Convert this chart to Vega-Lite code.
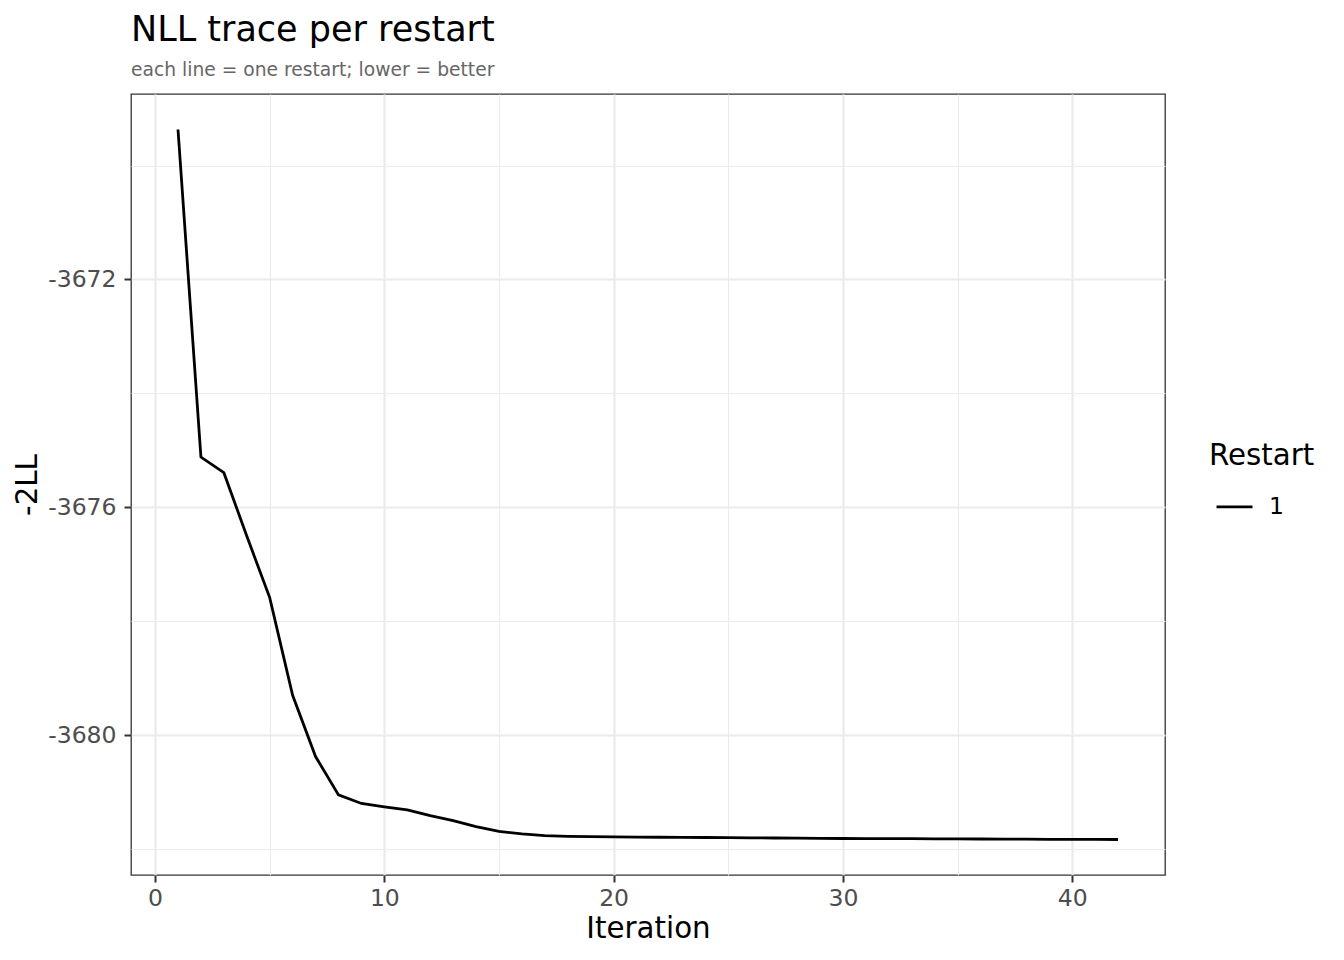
{
  "$schema": "https://vega.github.io/schema/vega-lite/v6.json",
  "width": 1034,
  "height": 781,
  "autosize": {"type": "none"},
  "padding": {"left": 131, "top": 94, "right": 179, "bottom": 85},
  "background": "white",
  "config": {
    "font": "DejaVu Sans",
    "view": {"stroke": "#333333", "strokeWidth": 1.3, "fill": "white"}
  },
  "title": {
    "text": "NLL trace per restart",
    "subtitle": "each line = one restart; lower = better",
    "anchor": "start",
    "frame": "group",
    "font": "DejaVu Sans",
    "fontSize": 35,
    "fontWeight": "normal",
    "color": "black",
    "subtitleFont": "DejaVu Sans",
    "subtitleFontSize": 18.7,
    "subtitleColor": "#666666",
    "subtitlePadding": 13,
    "offset": 14
  },
  "data": {
    "values": [
      {"iteration": 1, "nll": -3669.368, "restart": "1"},
      {"iteration": 2, "nll": -3675.118, "restart": "1"},
      {"iteration": 3, "nll": -3675.391, "restart": "1"},
      {"iteration": 4, "nll": -3676.504, "restart": "1"},
      {"iteration": 5, "nll": -3677.584, "restart": "1"},
      {"iteration": 6, "nll": -3679.298, "restart": "1"},
      {"iteration": 7, "nll": -3680.374, "restart": "1"},
      {"iteration": 8, "nll": -3681.047, "restart": "1"},
      {"iteration": 9, "nll": -3681.198, "restart": "1"},
      {"iteration": 10, "nll": -3681.258, "restart": "1"},
      {"iteration": 11, "nll": -3681.311, "restart": "1"},
      {"iteration": 12, "nll": -3681.412, "restart": "1"},
      {"iteration": 13, "nll": -3681.500, "restart": "1"},
      {"iteration": 14, "nll": -3681.605, "restart": "1"},
      {"iteration": 15, "nll": -3681.689, "restart": "1"},
      {"iteration": 16, "nll": -3681.733, "restart": "1"},
      {"iteration": 17, "nll": -3681.763, "restart": "1"},
      {"iteration": 18, "nll": -3681.775, "restart": "1"},
      {"iteration": 19, "nll": -3681.781, "restart": "1"},
      {"iteration": 20, "nll": -3681.784, "restart": "1"},
      {"iteration": 21, "nll": -3681.787, "restart": "1"},
      {"iteration": 22, "nll": -3681.790, "restart": "1"},
      {"iteration": 23, "nll": -3681.793, "restart": "1"},
      {"iteration": 24, "nll": -3681.795, "restart": "1"},
      {"iteration": 25, "nll": -3681.798, "restart": "1"},
      {"iteration": 26, "nll": -3681.801, "restart": "1"},
      {"iteration": 27, "nll": -3681.804, "restart": "1"},
      {"iteration": 28, "nll": -3681.806, "restart": "1"},
      {"iteration": 29, "nll": -3681.809, "restart": "1"},
      {"iteration": 30, "nll": -3681.812, "restart": "1"},
      {"iteration": 31, "nll": -3681.813, "restart": "1"},
      {"iteration": 32, "nll": -3681.815, "restart": "1"},
      {"iteration": 33, "nll": -3681.816, "restart": "1"},
      {"iteration": 34, "nll": -3681.818, "restart": "1"},
      {"iteration": 35, "nll": -3681.820, "restart": "1"},
      {"iteration": 36, "nll": -3681.821, "restart": "1"},
      {"iteration": 37, "nll": -3681.823, "restart": "1"},
      {"iteration": 38, "nll": -3681.825, "restart": "1"},
      {"iteration": 39, "nll": -3681.826, "restart": "1"},
      {"iteration": 40, "nll": -3681.828, "restart": "1"},
      {"iteration": 41, "nll": -3681.829, "restart": "1"},
      {"iteration": 42, "nll": -3681.830, "restart": "1"}
    ]
  },
  "layer": [
    {
      "mark": {"type": "line", "strokeWidth": 2.8},
      "encoding": {
        "x": {
          "field": "iteration",
          "type": "quantitative",
          "title": "Iteration",
          "scale": {"domain": [-1.05, 44.05], "nice": false, "zero": false},
          "axis": {
            "values": [0, 10, 20, 30, 40],
            "grid": true,
            "gridColor": "#EBEBEB",
            "gridWidth": 2.2,
            "domain": false,
            "tickColor": "#333333",
            "tickWidth": 2,
            "tickSize": 7,
            "labelFontSize": 23.5,
            "labelColor": "#4D4D4D",
            "labelPadding": 4,
            "labelFlush": false,
            "titleFontSize": 29.3,
            "titleFontWeight": "normal",
            "titleColor": "black",
            "titlePadding": 5
          }
        },
        "y": {
          "field": "nll",
          "type": "quantitative",
          "title": "-2LL",
          "scale": {"domain": [-3682.453, -3668.745], "nice": false, "zero": false},
          "axis": {
            "values": [-3680, -3676, -3672],
            "labelExpr": "'' + datum.value",
            "grid": true,
            "gridColor": "#EBEBEB",
            "gridWidth": 2.2,
            "domain": false,
            "tickColor": "#333333",
            "tickWidth": 2,
            "tickSize": 7,
            "labelFontSize": 23.5,
            "labelColor": "#4D4D4D",
            "labelPadding": 8,
            "labelFlush": false,
            "titleFontSize": 29.3,
            "titleFontWeight": "normal",
            "titleColor": "black",
            "titlePadding": 5
          }
        },
        "color": {
          "field": "restart",
          "type": "nominal",
          "title": "Restart",
          "scale": {"range": ["black"]},
          "legend": {
            "orient": "none",
            "legendX": 1078,
            "legendY": 348,
            "padding": 0,
            "symbolType": "stroke",
            "symbolSize": 1296,
            "symbolStrokeWidth": 2.8,
            "symbolOffset": 6,
            "labelOffset": 15,
            "labelFontSize": 23.5,
            "labelColor": "black",
            "titleFontSize": 29.3,
            "titleFontWeight": "normal",
            "titleColor": "black",
            "titlePadding": 16
          }
        }
      }
    },
    {
      "mark": {"type": "line", "strokeOpacity": 0},
      "encoding": {
        "x": {
          "field": "iteration",
          "type": "quantitative",
          "axis": {
            "values": [5, 15, 25, 35],
            "grid": true,
            "gridColor": "#EBEBEB",
            "gridWidth": 1.1,
            "domain": false,
            "ticks": false,
            "labels": false,
            "title": null
          }
        },
        "y": {
          "field": "nll",
          "type": "quantitative",
          "axis": {
            "values": [-3682, -3678, -3674, -3670],
            "grid": true,
            "gridColor": "#EBEBEB",
            "gridWidth": 1.1,
            "domain": false,
            "ticks": false,
            "labels": false,
            "title": null
          }
        }
      }
    }
  ],
  "resolve": {"axis": {"x": "independent", "y": "independent"}}
}
